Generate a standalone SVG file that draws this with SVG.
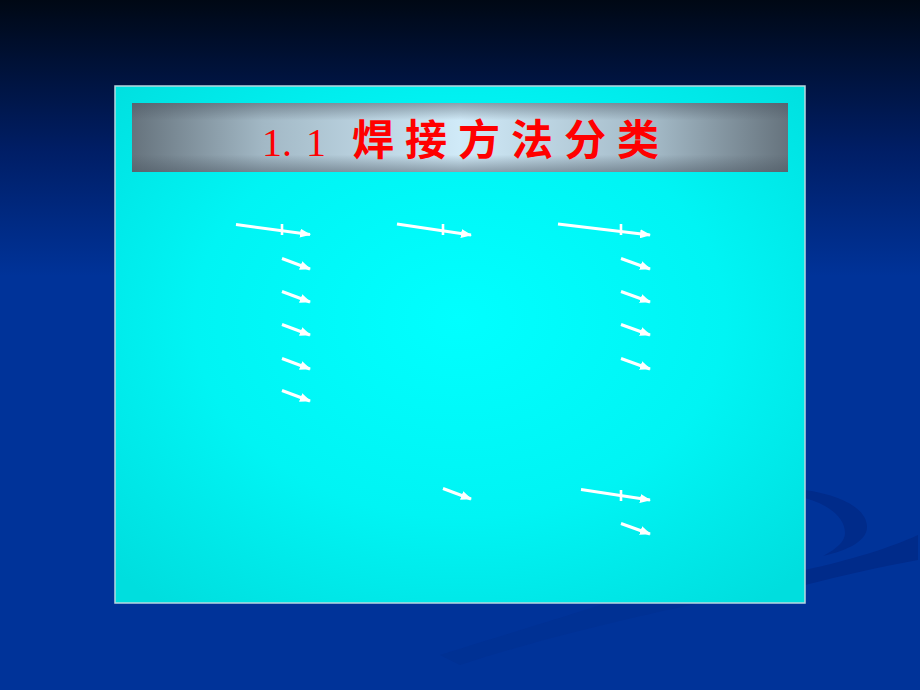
<svg xmlns="http://www.w3.org/2000/svg" width="920" height="690" viewBox="0 0 920 690">
  <defs>
    <linearGradient id="bg" x1="0" y1="0" x2="0" y2="1">
      <stop offset="0" stop-color="#000814"/>
      <stop offset="0.1" stop-color="#00123a"/>
      <stop offset="0.22" stop-color="#001e66"/>
      <stop offset="0.4" stop-color="#003399"/>
      <stop offset="1" stop-color="#003399"/>
    </linearGradient>
    <radialGradient id="panel" cx="0.5" cy="0.45" r="0.7">
      <stop offset="0" stop-color="#00ffff"/>
      <stop offset="0.55" stop-color="#00f4f4"/>
      <stop offset="1" stop-color="#00dede"/>
    </radialGradient>
    <linearGradient id="barH" x1="0" y1="0" x2="1" y2="0">
      <stop offset="0" stop-color="#66737d"/>
      <stop offset="0.2" stop-color="#a2b8c5"/>
      <stop offset="0.5" stop-color="#d0eaf8"/>
      <stop offset="0.8" stop-color="#a2b8c5"/>
      <stop offset="1" stop-color="#66737d"/>
    </linearGradient>
    <linearGradient id="barV" x1="0" y1="0" x2="0" y2="1">
      <stop offset="0" stop-color="#4a5560" stop-opacity="0.5"/>
      <stop offset="0.25" stop-color="#4a5560" stop-opacity="0"/>
      <stop offset="0.75" stop-color="#4a5560" stop-opacity="0"/>
      <stop offset="1" stop-color="#4a5560" stop-opacity="0.5"/>
    </linearGradient>
    <marker id="ah" viewBox="0 0 11 9" refX="10" refY="4.5" markerWidth="11" markerHeight="9" markerUnits="userSpaceOnUse" orient="auto">
      <path d="M0,0 L11,4.5 L0,9 z" fill="#ffffff"/>
    </marker>
    <style>
      .arr { stroke: #ffffff; stroke-width: 3; fill: none; marker-end: url(#ah); }
      .tick { stroke: #ffffff; stroke-width: 2.6; }
      .t1 { font-family: "Liberation Serif", "Times New Roman", serif; font-size: 40px; fill: #ff0000; }
      .t2 { font-family: "Noto Sans CJK SC", "Noto Sans CJK JP", sans-serif; font-size: 42px; font-weight: bold; fill: #ff0000; letter-spacing: 11px; }
    </style>
  </defs>

  <g id="background">
    <rect x="0" y="0" width="920" height="690" fill="url(#bg)"/>
    <path d="M805,490 C845,496 867,510 867,527 C867,540 850,550 823,556 C838,548 845,541 845,533 C845,518 830,505 805,498 Z" fill="#002b8a"/>
    <path d="M805,570 C850,560 890,548 918,535 L918,560 C880,567 840,576 805,585 Z" fill="#002b8a"/>
    <path d="M440,655 C520,630 580,612 606,603 L700,603 C610,622 520,645 460,665 Z" fill="#003194"/>
  </g>

  <g id="panel-box">
    <rect x="115" y="86" width="690" height="517" fill="url(#panel)" stroke="#b8d8e0" stroke-width="1.5"/>
  </g>

  <g id="title">
    <rect x="132" y="103" width="656" height="69" fill="url(#barH)"/>
    <rect x="132" y="103" width="656" height="69" fill="url(#barV)"/>
    <text x="262" y="156" class="t1">1.<tspan dx="14">1</tspan></text>
    <text x="352" y="155" class="t2">焊接方法分类</text>
  </g>

  <g id="connectors">
    <line class="arr" x1="236" y1="224.5" x2="310" y2="234.5"/>
    <line class="tick" x1="282" y1="224" x2="282" y2="235"/>
    <line class="arr" x1="282" y1="258.5" x2="310" y2="269"/>
    <line class="arr" x1="282" y1="291.5" x2="310" y2="302"/>
    <line class="arr" x1="282" y1="324.5" x2="310" y2="335"/>
    <line class="arr" x1="282" y1="358.5" x2="310" y2="369"/>
    <line class="arr" x1="282" y1="390.5" x2="310" y2="401"/>

    <line class="arr" x1="397" y1="224" x2="471" y2="235"/>
    <line class="tick" x1="443" y1="224" x2="443" y2="235"/>
    <line class="arr" x1="443" y1="488.5" x2="471" y2="499"/>

    <line class="arr" x1="558" y1="224" x2="650" y2="235"/>
    <line class="tick" x1="621" y1="224" x2="621" y2="235"/>
    <line class="arr" x1="621" y1="258.5" x2="650" y2="269"/>
    <line class="arr" x1="621" y1="291.5" x2="650" y2="302"/>
    <line class="arr" x1="621" y1="324.5" x2="650" y2="335"/>
    <line class="arr" x1="621" y1="358.5" x2="650" y2="369"/>

    <line class="arr" x1="581" y1="489.5" x2="650" y2="500"/>
    <line class="tick" x1="621" y1="490" x2="621" y2="501"/>
    <line class="arr" x1="621" y1="523.5" x2="650" y2="534"/>
  </g>
</svg>
